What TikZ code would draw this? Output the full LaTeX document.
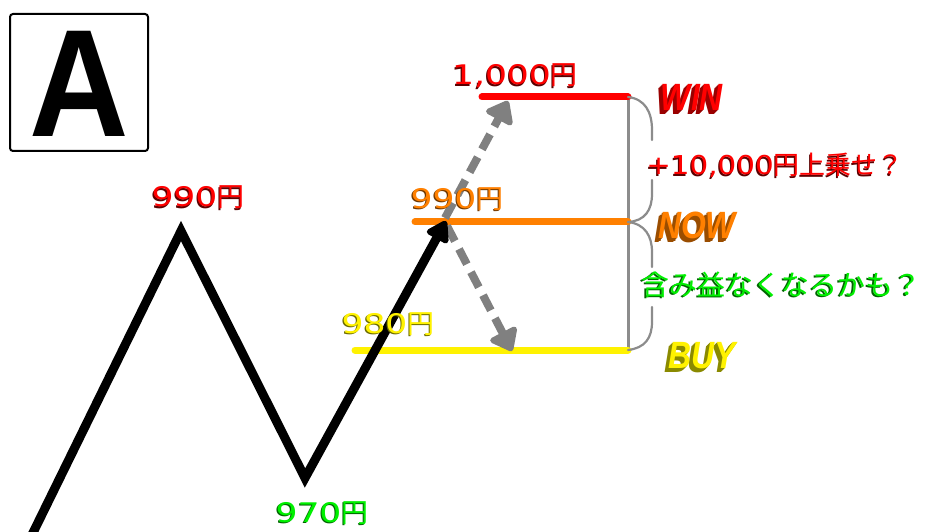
\documentclass[tikz,border=0pt]{standalone}
\usepackage{fontspec}
\usepackage{graphicx}
\setmainfont{DejaVu Sans}
\newfontfamily\jp{Noto Sans CJK JP}
\newfontfamily\bigfont{Liberation Sans}
\usetikzlibrary{arrows.meta}

\definecolor{cRed}{HTML}{FF0000}
\definecolor{cRedDark}{HTML}{5C0000}
\definecolor{cOrange}{HTML}{FF8000}
\definecolor{cOrangeDark}{HTML}{6E3700}
\definecolor{cYellow}{HTML}{FFF200}
\definecolor{cYellowDark}{HTML}{6B6B00}
\definecolor{cGreen}{HTML}{00F000}
\definecolor{cGreenDark}{HTML}{006400}
\definecolor{cGray}{HTML}{8C8C8C}
\definecolor{cArrow}{HTML}{808080}
\definecolor{winDark}{HTML}{9A0000}
\definecolor{nowDark}{HTML}{9A4D00}
\definecolor{buyDark}{HTML}{8A8A00}

% wide digits
\newcommand\dg[2][1.28]{\scalebox{#1}[1]{#2}}
\newcommand\wordface{\bigfont\fontsize{38}{40}\selectfont\bfseries\itshape}

% label with a dark drop shadow: [options]{name}{position}{colour}{shadow}{text}
\newcommand\shtext[6][]{%
  \node[lbl,#1,text=#5,xshift=-1.2pt,yshift=-1.2pt] (#2-shadow) at #3 {#6};
  \node[lbl,#1,text=#4] (#2) at #3 {#6};}

% extruded word: {name}{position}{front}{depth}{text}
\newcommand\extrude[5]{%
  \foreach \k in {4,3,2,1}{%
    \node[word,text=#4,xshift={-\k*1pt},yshift={-\k*1pt}] at #2 {\scalebox{0.84}[1]{#5}};}
  \node[word,text=#3] (#1) at #2 {\scalebox{0.84}[1]{#5}};}

\begin{document}
\begin{tikzpicture}[x=1pt,y=-1pt,
  lbl/.style={anchor=base,inner sep=0pt,font=\fontsize{27}{30}\selectfont},
  word/.style={anchor=base,inner sep=0pt,font=\wordface},
  level/.style={line width=7pt,line cap=round},
  axisline/.style={draw=cGray,line width=3pt},
  bracecurve/.style={draw=cGray,line width=2.2pt,line cap=round},
  moveline/.style={draw=black,line width=9pt,miter limit=10,
    -{Triangle[length=23pt,width=27pt,round]}},
  pathdash/.style={draw=cArrow,line width=8pt,dash pattern=on 17pt off 9pt,
    -{Triangle[length=23pt,width=34pt,round]}}]

\clip (0,0) rectangle (930,532);
\fill[white] (0,0) rectangle (930,532);

% title box
\node[draw,line width=2pt,rounded corners=3pt,minimum width=138pt,minimum height=137pt,inner sep=0pt]
  (titlebox) at (79,82.5) {};
\node[anchor=base,inner sep=0pt,font=\bigfont\bfseries\fontsize{153}{160}\selectfont]
  (titleA) at (79,137) {\scalebox{0.9}[1]{A}};

% price levels
\coordinate (redL) at (482,97);
\coordinate (redR) at (628,97);
\coordinate (orL) at (415,222);
\coordinate (orR) at (628,222);
\coordinate (yeL) at (355,350);
\coordinate (yeR) at (628,350);

\draw[axisline] (redR) -- (yeR);
\draw[level,cRed] (redL) -- (redR);
\draw[level,cOrange] (orL) -- (orR);
\draw[level,cYellow] (yeL) -- (yeR);

% braces between the levels
\draw[bracecurve] (redR) .. controls (645,99) and (652,112) .. (652,130) -- (652,140);
\draw[bracecurve] (652,180) -- (652,194) .. controls (652,210) and (645,221) .. (orR);
\draw[bracecurve] (orR) .. controls (645,224) and (652,236) .. (652,252) -- (652,267);
\draw[bracecurve] (652,307) -- (652,322) .. controls (652,338) and (645,348) .. (yeR);

% possible moves from now
\coordinate (upFrom) at (445,218);
\coordinate (upTo) at (508,101);
\coordinate (downFrom) at (447,226);
\coordinate (downTo) at (512,351);
\draw[pathdash] (upFrom) -- (upTo);
\draw[pathdash] (downFrom) -- (downTo);

% price path
\coordinate (start) at (27,545);
\coordinate (peak) at (181,231);
\coordinate (valley) at (305,478);
\coordinate (now) at (446,221);
\draw[moveline] (start) -- (peak) -- (valley) -- (now);

% prices
\shtext{p1000}{(515,85)}{cRed}{cRedDark}{\dg{1,000}{\jp 円}}
\shtext{p990a}{(198,207)}{cRed}{cRedDark}{\dg{990}{\jp 円}}
\shtext{p990b}{(457,208)}{cOrange}{cOrangeDark}{\dg{990}{\jp 円}}
\shtext{p980}{(388,333)}{cYellow}{cYellowDark}{\dg{980}{\jp 円}}
\shtext{p970}{(322,522)}{cGreen}{cGreenDark}{\dg{970}{\jp 円}}

% comments
\shtext[font=\fontsize{26}{30}\selectfont]{gain}{(775,175)}{cRed}{cRedDark}{\dg[1.13]{+10,000}{\jp 円上乗せ？}}
\shtext[font=\fontsize{28}{30}\selectfont]{loss}{(781,295)}{cGreen}{cGreenDark}{{\jp 含み益なくなるかも？}}

% level names
\extrude{win}{(692,111)}{cRed}{winDark}{WIN}
\extrude{nowword}{(697,239)}{cOrange}{nowDark}{NOW}
\extrude{buy}{(702,368)}{cYellow}{buyDark}{BUY}

\end{tikzpicture}
\end{document}
